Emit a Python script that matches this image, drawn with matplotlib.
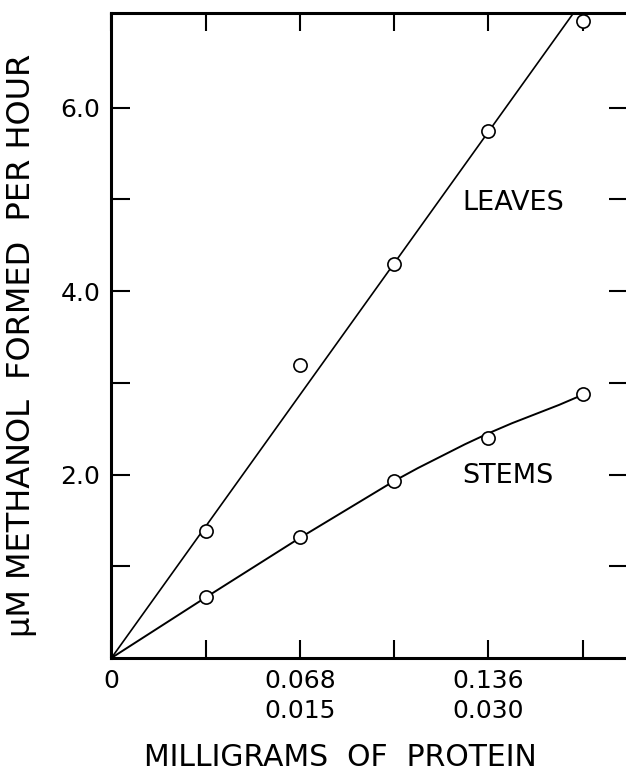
import matplotlib
matplotlib.use('Agg')
import matplotlib.pyplot as plt

plt.rcParams.update({
    'font.family': 'DejaVu Sans',
    'font.size': 16,
})

# x in units of tick spacing (0.034 mg leaves / 0.0075 mg stems)
leaves_x = [1, 2, 3, 4, 5]
leaves_y = [1.38, 3.2, 4.3, 5.75, 6.95]
leaves_fit_x = [0, 5.2]
leaves_fit_y = [0, 7.46]

stems_x = [1, 2, 3, 4, 5]
stems_y = [0.66, 1.32, 1.93, 2.40, 2.88]
stems_fit_x = [0, 1, 2, 2.5, 3, 3.25, 3.5, 3.75, 4, 4.25, 4.5, 4.75, 5]
stems_fit_y = [0, 0.66, 1.31, 1.62, 1.93, 2.07, 2.20, 2.33, 2.45, 2.56, 2.66, 2.76, 2.87]

xticks = [0, 1, 2, 3, 4, 5]
xticklabels = ['0', '', '0.068\n0.015', '', '0.136\n0.030', '']
yticks = [1, 2, 3, 4, 5, 6]
yticklabels = ['', '2.0', '', '4.0', '', '6.0']

fig = plt.figure(figsize=(6.26, 7.72), dpi=100)
ax = fig.add_axes([0.178, 0.1477, 0.825, 0.835])

ax.plot(leaves_fit_x, leaves_fit_y, color='black', linewidth=1.2)
ax.plot(stems_fit_x, stems_fit_y, color='black', linewidth=1.4)
ax.plot(leaves_x, leaves_y, 'o', markersize=9.5, markerfacecolor='white',
        markeredgecolor='black', markeredgewidth=1.2, clip_on=False, zorder=3)
ax.plot(stems_x, stems_y, 'o', markersize=9.5, markerfacecolor='white',
        markeredgecolor='black', markeredgewidth=1.2, clip_on=False, zorder=3)

ax.text(3.72, 4.96, 'LEAVES', fontsize=19.5, ha='left', va='center')
ax.text(3.72, 1.98, 'STEMS', fontsize=19.5, ha='left', va='center')

ax.set_xlim(0, 5.48)
ax.set_ylim(0, 7.03)
ax.set_xticks(xticks)
ax.set_xticklabels(xticklabels, linespacing=1.3)
ax.set_yticks(yticks)
ax.set_yticklabels(yticklabels)
ax.tick_params(axis='x', direction='in', length=13, width=1.5, top=True,
               pad=8, labelsize=18)
ax.tick_params(axis='y', direction='in', length=14, width=1.5, right=True,
               pad=8, labelsize=18)
for s in ax.spines.values():
    s.set_linewidth(2.2)

fig.text(0.543, 0.019, 'MILLIGRAMS  OF  PROTEIN', fontsize=21.5,
         ha='center', va='center')
fig.text(0.035, 0.553, 'μM METHANOL  FORMED  PER HOUR', fontsize=23,
         ha='center', va='center', rotation=90)

plt.savefig('out.png', dpi=100)
